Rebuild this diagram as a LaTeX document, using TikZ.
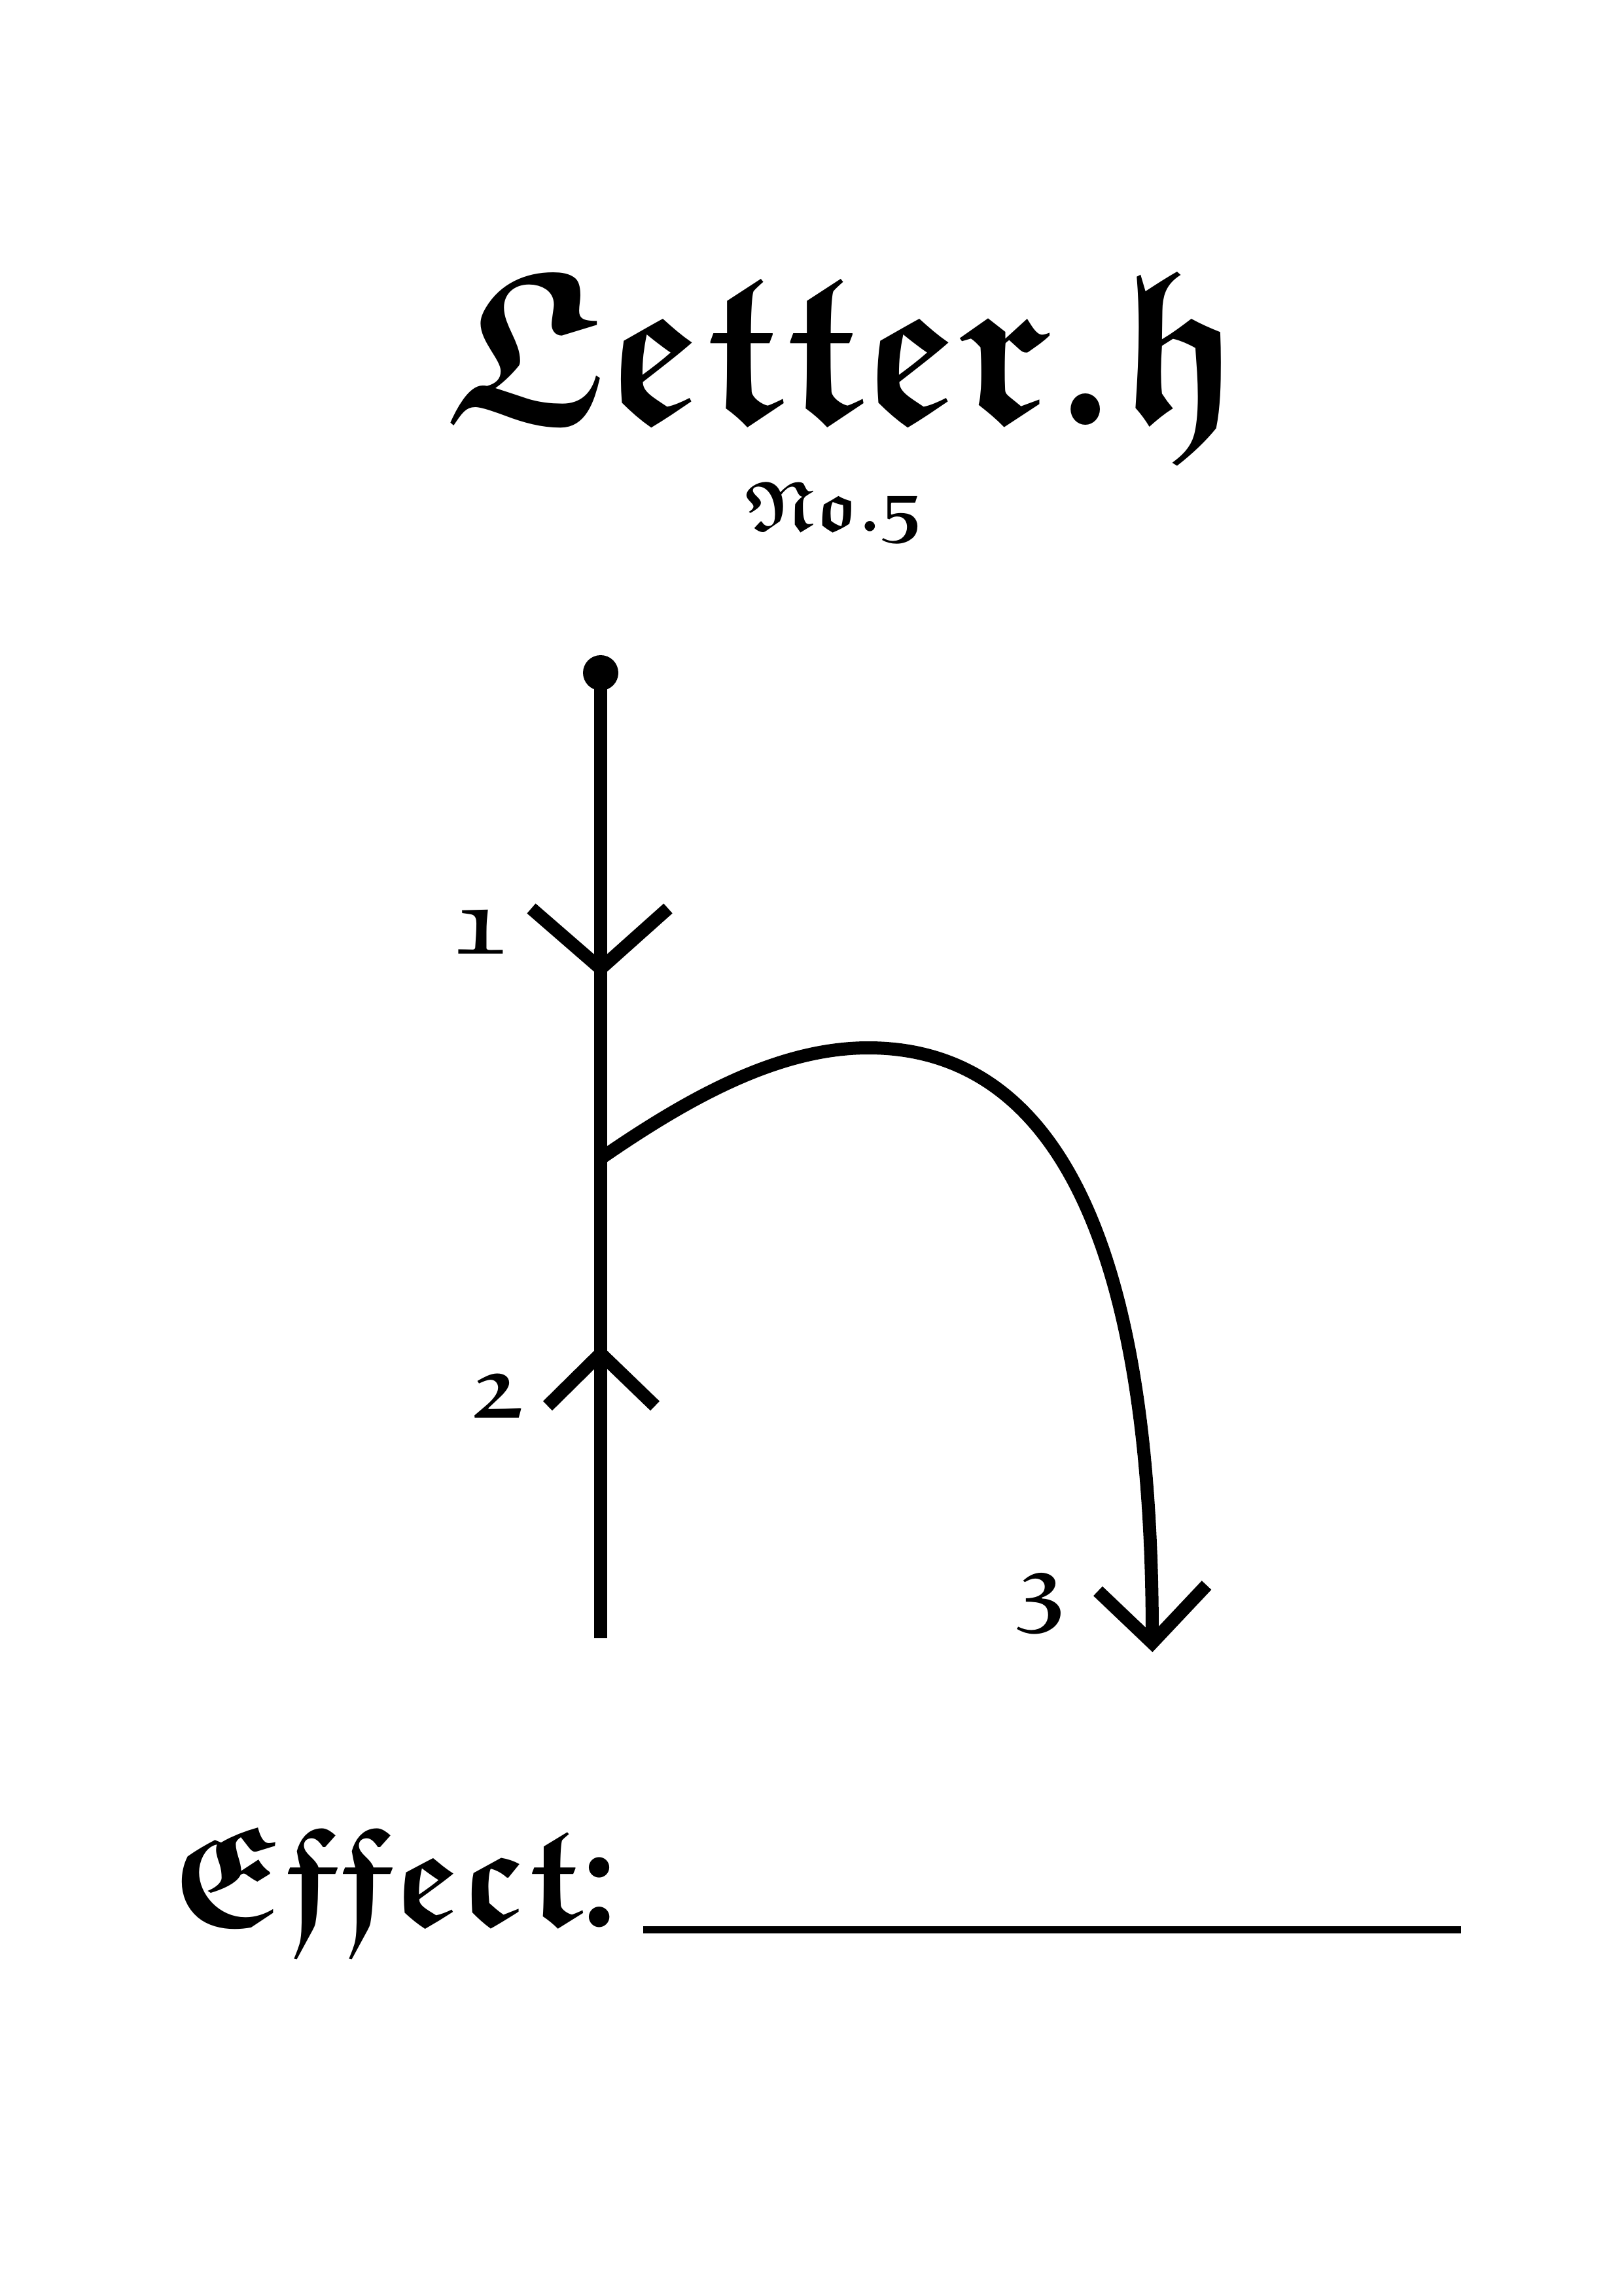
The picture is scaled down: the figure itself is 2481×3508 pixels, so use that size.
\documentclass[tikz,border=0pt]{standalone}
\usepackage{amsfonts}
\usepackage{graphicx}
\newcommand{\gothtext}{\usefont{U}{euf}{b}{n}}
\begin{document}
\begin{tikzpicture}[x=0.24pt,y=-0.24pt,
  stroke/.style={line width=20*0.24pt,line cap=butt,line join=miter},
  numlabel/.style={font=\fontsize{33}{36}\gothtext,inner sep=0pt}]
\useasboundingbox[fill=white] (0,0) rectangle (2481,3508);
% title
\node[inner sep=0pt,anchor=base] (title) at (1290,645) {\scalebox{0.934}[1]{\fontsize{80}{90}\gothtext Letter.h}};
\node[inner sep=0pt,anchor=base] (num) at (1275,811) {\fontsize{26}{30}\gothtext No.5};
% main stroke
\coordinate (top) at (918,1028);
\coordinate (bot) at (918,2503);
\fill (top) circle (27);
\draw[stroke] (top) -- (bot);
% chevron 1 (down)
\coordinate (v1) at (918,1480);
\draw[stroke] (812,1388) -- (v1) -- (1021,1388);
% chevron 2 (up)
\coordinate (v2) at (918,2068);
\draw[stroke] (837,2148) -- (v2) -- (1001,2148);
% curve
\coordinate (cA) at (918,1770);
\coordinate (cP) at (1327,1601);
\coordinate (cB) at (1761,2500);
\draw[stroke] (cA) .. controls (1057,1674) and (1192,1601) .. (cP)
  .. controls (1597,1601) and (1761,1867) .. (cB);
\coordinate (v3) at (1761,2510);
\draw[stroke] (1678,2431) -- (v3) -- (1844,2422);
% labels
\node[numlabel] (l1) at (734,1425) {1};
\node[numlabel] (l2) at (760,2134) {2};
\node[numlabel] (l3) at (1590,2451) {3};
% effect
\node[inner sep=0pt,anchor=base west] (eff) at (262,2941) {\fontsize{52}{60}\gothtext Effect:};
\coordinate (u1) at (983,2948);
\coordinate (u2) at (2233,2948);
\draw[line width=11*0.24pt] (u1) -- (u2);
\end{tikzpicture}
\end{document}
